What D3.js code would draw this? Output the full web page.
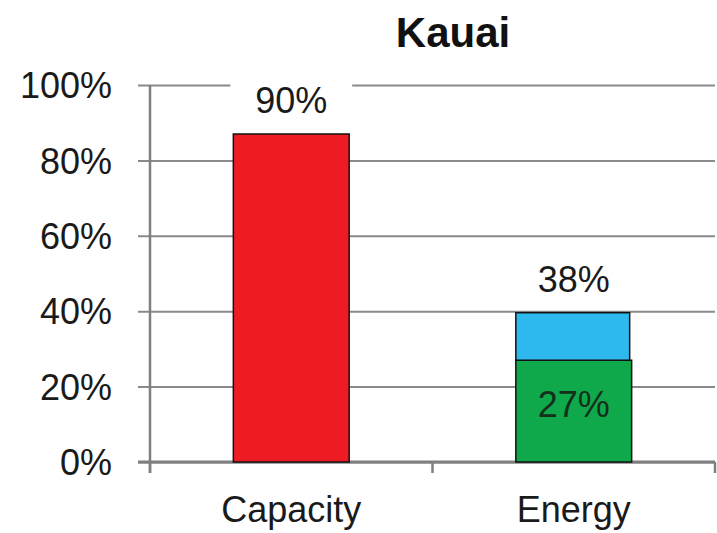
<!DOCTYPE html>
<html>
<head>
<meta charset="utf-8">
<script src="https://cdn.jsdelivr.net/npm/d3@7"></script>
<style>
  html, body { margin: 0; padding: 0; background: #fff; }
  svg { display: block; }
  text { font-family: "Liberation Sans", Arial, Helvetica, sans-serif; }
</style>
</head>
<body>
<svg id="chart" width="717" height="533"></svg>
<script>
// ---- data ----
const title = "Kauai";
const categories = ["Capacity", "Energy"];
const baseValues = [0.87, 0.27];     // red (capacity) / green (energy base)
const topValues = [0, 0.126];        // blue segment on energy
const baseColors = ["#ED1C24", "#0FA84B"];
const topColor = "#2DB8EE";
const totalLabels = ["90%", "38%"];
const innerLabels = [null, "27%"];
const yTicks = [0, 0.2, 0.4, 0.6, 0.8, 1.0];
const yTickLabels = ["0%", "20%", "40%", "60%", "80%", "100%"];

// ---- layout ----
const svg = d3.select("#chart");
const plotLeft = 150, plotRight = 715, plotTop = 85, plotBottom = 462;

const x = d3.scaleBand().domain(categories).range([plotLeft, plotRight])
  .paddingInner(0.59).paddingOuter(0.295);
const y = d3.scaleLinear().domain([0, 1]).range([plotBottom, plotTop]);

// gridlines + y axis labels
const yAxis = d3.axisLeft(y).tickValues(yTicks)
  .tickFormat((d, i) => yTickLabels[i])
  .tickSize(-(plotRight - plotLeft)).tickPadding(38);
const gy = svg.append("g").attr("transform", `translate(${plotLeft},0)`).call(yAxis);
gy.select(".domain").remove();
gy.selectAll(".tick line").attr("x1", -12).attr("stroke", "#8a8a8a").attr("stroke-width", 2);
gy.selectAll(".tick text").attr("font-size", 36).attr("fill", "#1a1a1a")
  .attr("dy", "0.35em").style("font-family", "'Liberation Sans', Arial, sans-serif");

// vertical axis line
svg.append("line").attr("x1", plotLeft).attr("x2", plotLeft)
  .attr("y1", y(1)).attr("y2", plotBottom + 11)
  .attr("stroke", "#7f7f7f").attr("stroke-width", 2.5);

// x axis
const xTickPos = [plotLeft, (plotLeft + plotRight) / 2, plotRight];
const gx = svg.append("g");
gx.append("line").attr("x1", plotLeft - 12).attr("x2", plotRight).attr("y1", plotBottom).attr("y2", plotBottom)
  .attr("stroke", "#7f7f7f").attr("stroke-width", 3);
gx.selectAll("line.xt").data(xTickPos).join("line").attr("class", "xt")
  .attr("x1", d => d).attr("x2", d => d).attr("y1", plotBottom).attr("y2", plotBottom + 11)
  .attr("stroke", "#7f7f7f").attr("stroke-width", 2.5);
gx.selectAll("text.xl").data(categories).join("text").attr("class", "xl")
  .attr("x", d => x(d) + x.bandwidth() / 2).attr("y", 522)
  .attr("text-anchor", "middle").attr("font-size", 36).attr("fill", "#1a1a1a")
  .text(d => d);

// bars
const bw = x.bandwidth();
svg.selectAll("rect.base").data(categories).join("rect").attr("class", "base")
  .attr("x", d => x(d)).attr("width", bw)
  .attr("y", (d, i) => y(baseValues[i]))
  .attr("height", (d, i) => y(0) - y(baseValues[i]))
  .attr("fill", (d, i) => baseColors[i])
  .attr("stroke", "#111").attr("stroke-width", 1.5);

svg.selectAll("rect.topseg").data(categories.filter((d, i) => topValues[i] > 0)).join("rect").attr("class", "topseg")
  .attr("x", d => x(d)).attr("width", bw - 2)
  .attr("y", d => { const i = categories.indexOf(d); return y(baseValues[i] + topValues[i]); })
  .attr("height", d => { const i = categories.indexOf(d); return y(baseValues[i]) - y(baseValues[i] + topValues[i]); })
  .attr("fill", topColor).attr("stroke", "#111").attr("stroke-width", 1.5);

// total labels with white background
categories.forEach((c, i) => {
  const tot = baseValues[i] + topValues[i];
  const base = y(tot) - 21;
  svg.append("rect").attr("x", x(c) - 3).attr("y", base - 32)
    .attr("width", bw + 6).attr("height", 40).attr("fill", "#fff");
  svg.append("text").attr("x", x(c) + bw / 2).attr("y", base)
    .attr("text-anchor", "middle").attr("font-size", 36).attr("fill", "#1a1a1a")
    .text(totalLabels[i]);
  if (innerLabels[i]) {
    svg.append("text").attr("x", x(c) + bw / 2).attr("y", y(baseValues[i] / 2) + 6)
      .attr("text-anchor", "middle").attr("font-size", 36).attr("fill", "#14301c")
      .text(innerLabels[i]);
  }
});

// title
svg.append("text").attr("x", 453).attr("y", 47).attr("text-anchor", "middle")
  .attr("font-size", 42).attr("font-weight", "bold").attr("fill", "#111")
  .text(title);
</script>
</body>
</html>
